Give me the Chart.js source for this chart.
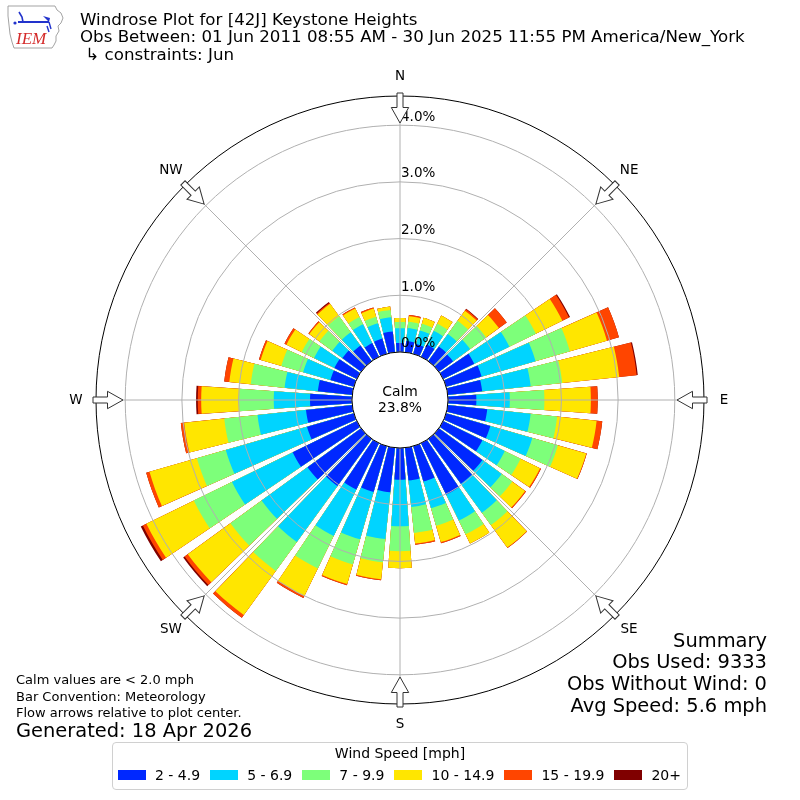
<!DOCTYPE html>
<html lang="en">
<head>
<meta charset="UTF-8">
<title>Windrose Plot for [42J] Keystone Heights</title>
<script src="https://cdn.jsdelivr.net/npm/chart.js"></script>
<style>
  body { margin: 0; background: #fff; font-family: "DejaVu Sans", sans-serif; color: #000; }
  #wrap { position: relative; width: 800px; height: 800px; overflow: hidden; }
  #wrap canvas { position: absolute; left: 0; top: 0; }
  .txt { position: absolute; white-space: pre; }
  #legend {
    position: absolute; left: 112px; top: 742px; width: 576px; height: 48px;
    box-sizing: border-box; border: 1px solid #d0d0d0; border-radius: 4px; background: #fff;
  }
  #legend .ttl { position: absolute; left: 0; right: 0; top: 3px; text-align: center; font-size: 14px; line-height: 14px; }
  #legend .row {
    position: absolute; left: 5px; right: 6px; top: 25px; height: 14px;
    display: flex; justify-content: space-between; align-items: center;
  }
  #legend .item { display: flex; align-items: center; font-size: 14px; line-height: 14px; }
  #legend .patch { width: 28px; height: 10px; margin-right: 9px; }
</style>
</head>
<body>
<div id="wrap">
  <canvas id="windrose" width="800" height="800"></canvas>

  <svg style="position:absolute;left:5px;top:3px" width="62" height="48" viewBox="0 0 62 48">
    <path d="M3 3 L50 3 L52 7 L56 10 L58 15 L56 20 L53 23 L54 28 L51 33 L51 38 L49 42 L47 45 L9 45 L7 39 L5 31 L4 22 L3 13 Z"
          fill="#fff" stroke="#999" stroke-width="0.9"/>
    <path d="M13 19 L44 19" stroke="#2233cc" stroke-width="2"/>
    <path d="M14 9 L17 14 L18 19" stroke="#2233cc" stroke-width="1.6" fill="none"/>
    <path d="M38 13 L45 15 L44 19 Z" fill="#2233cc"/>
    <path d="M44 19 L46 26 M42 23 L44 29" stroke="#2233cc" stroke-width="1.4"/>
    <circle cx="10" cy="20" r="1.6" fill="#2233cc"/>
    <text x="11" y="41" font-family="Liberation Serif" font-style="italic" font-size="17" fill="#d42a2a">IEM</text>
  </svg>

  <div id="legend">
    <div class="ttl">Wind Speed [mph]</div>
    <div class="row" id="legendRow"></div>
  </div>
</div>

<script>
    // compass points used for the axis lines, arrows and labels
    const directions = ['N', 'NE', 'E', 'SE', 'S', 'SW', 'W', 'NW'];
    // 36 sectors, 10 degrees apart, clockwise from north
    const sectorDegrees = [0, 10, 20, 30, 40, 50, 60, 70, 80, 90, 100, 110, 120, 130, 140, 150, 160, 170,
                           180, 190, 200, 210, 220, 230, 240, 250, 260, 270, 280, 290, 300, 310, 320, 330, 340, 350];
    const speedBins = ['2 - 4.9', '5 - 6.9', '7 - 9.9', '10 - 14.9', '15 - 19.9', '20+'];
    const binColors = ['#0028ff', '#00d4ff', '#7dff7a', '#ffe600', '#ff4500', '#800000'];

    // percent of observations in each sector, per speed bin
    const speed2to5 = [0.16, 0.20, 0.18, 0.24, 0.32, 0.31, 0.61, 0.65, 0.61, 0.50, 0.70, 0.81, 0.77, 0.95, 0.98, 1.01, 0.65, 0.58,
                       0.56, 0.79, 0.84, 0.91, 1.03, 1.17, 1.26, 0.86, 0.82, 0.74, 0.61, 0.43, 0.44, 0.41, 0.34, 0.27, 0.28, 0.37];
    const speed5to7 = [0.26, 0.23, 0.25, 0.27, 0.27, 0.37, 0.69, 0.99, 0.86, 0.59, 0.77, 0.77, 0.44, 0.42, 0.63, 0.51, 0.49, 0.47,
                       0.82, 0.83, 0.87, 0.91, 1.22, 1.00, 1.19, 1.49, 0.86, 0.64, 0.59, 0.50, 0.40, 0.22, 0.29, 0.37, 0.28, 0.25];
    const speed7to10 = [0.11, 0.11, 0.12, 0.14, 0.29, 0.35, 0.52, 0.63, 0.56, 0.61, 0.47, 0.47, 0.31, 0.23, 0.27, 0.27, 0.32, 0.46,
                        0.44, 0.41, 0.46, 0.64, 0.63, 0.68, 0.75, 0.53, 0.59, 0.61, 0.60, 0.40, 0.24, 0.28, 0.35, 0.14, 0.12, 0.13];
    const speed10to15 = [0.07, 0.10, 0.11, 0.16, 0.22, 0.28, 0.52, 0.68, 1.01, 0.82, 0.70, 0.52, 0.38, 0.28, 0.49, 0.18, 0.30, 0.19,
                         0.30, 0.30, 0.36, 0.54, 0.96, 0.93, 0.93, 0.87, 0.71, 0.67, 0.38, 0.38, 0.30, 0.22, 0.27, 0.17, 0.15, 0.06];
    const speed15to20 = [0, 0.02, 0, 0, 0.03, 0.17, 0.13, 0.22, 0.31, 0.12, 0.10, 0.01, 0.02, 0.02, 0.01, 0, 0.02, 0.02,
                         0, 0.02, 0.02, 0.04, 0.06, 0.07, 0.07, 0.06, 0.06, 0.06, 0.09, 0.03, 0.04, 0.02, 0.02, 0.02, 0.02, 0];
    const speed20plus = [0, 0, 0, 0, 0.01, 0, 0.02, 0, 0.02, 0, 0, 0, 0, 0, 0, 0, 0, 0,
                         0, 0, 0, 0, 0, 0.03, 0.04, 0, 0, 0.03, 0, 0, 0, 0, 0.02, 0, 0, 0];
    const calmPct = 23.8;
    const ringTicks = [0, 1, 2, 3, 4];

    const R_MIN = -0.847;   // leaves room for the calm circle
    const R_MAX = 4.515;

    const bins = [speed2to5, speed5to7, speed7to10, speed10to15, speed15to20, speed20plus];

    // stacked: each dataset is the running total, drawn from the center
    const cumulative = bins.map((_, b) => sectorDegrees.map((_, k) => {
        let s = 0;
        for (let j = 0; j <= b; j++) s += bins[j][k];
        return +s.toFixed(3);
    }));

    // 8 deg bars with 2 deg gaps, north bar split so it sits on 0
    function toArcs(values) {
        const out = [values[0], R_MIN];
        for (let k = 1; k < values.length; k++) out.push(values[k], R_MIN);
        out.push(values[0]);
        return out;
    }
    const arcAngles = [4, 2];
    for (let k = 1; k < sectorDegrees.length; k++) arcAngles.push(8, 2);
    arcAngles.push(4);

    const windroseDecor = {
        id: 'windroseDecor',
        afterDraw(chart) {
            const s = chart.scales.r;
            const c = chart.ctx;
            const cx = s.xCenter, cy = s.yCenter;
            const r0 = s.getDistanceFromCenterForValue(0);
            c.save();

            c.beginPath();
            c.arc(cx, cy, r0, 0, Math.PI * 2);
            c.fillStyle = '#fff';
            c.fill();
            c.lineWidth = 1;
            c.strokeStyle = '#000';
            c.stroke();

            c.fillStyle = '#000';
            c.font = '13.9px "DejaVu Sans"';
            c.textAlign = 'center';
            c.textBaseline = 'middle';
            c.fillText('Calm', cx, cy - 8);
            c.fillText(calmPct.toFixed(1) + '%', cx, cy + 8);

            c.font = '13.5px "DejaVu Sans"';
            c.textAlign = 'left';
            ringTicks.forEach(v => {
                c.fillText(v.toFixed(1) + '%', cx + 1, cy - s.getDistanceFromCenterForValue(v) - 8);
            });

            const R = s.drawingArea;
            directions.forEach((d, i) => {
                const a = s.getIndexAngle(i) - Math.PI / 2;
                c.save();
                c.translate(cx, cy);
                c.rotate(a);
                c.beginPath();
                c.moveTo(R - 27, 0);
                c.lineTo(R - 11.5, 8.7);
                c.lineTo(R - 11.5, 3);
                c.lineTo(R + 3, 3);
                c.lineTo(R + 3, -3);
                c.lineTo(R - 11.5, -3);
                c.lineTo(R - 11.5, -8.7);
                c.closePath();
                c.fillStyle = '#fff';
                c.fill();
                c.strokeStyle = '#333';
                c.lineWidth = 1;
                c.stroke();
                c.restore();

                const p = s.getPointPosition(i, R + 20);
                c.fillStyle = '#000';
                c.textAlign = 'center';
                c.fillText(d, p.x, p.y);
            });
            c.restore();
        }
    };

    const ctx = document.getElementById('windrose').getContext('2d');
    const chart = new Chart(ctx, {
        type: 'polarArea',
        data: {
            labels: directions,
            datasets: bins.map((_, b) => ({
                label: speedBins[b],
                data: toArcs(cumulative[b]),
                backgroundColor: binColors[b],
                borderWidth: 0,
                angle: arcAngles
            }))
        },
        options: {
            responsive: false,
            animation: false,
            events: [],
            layout: { padding: 96 },
            plugins: {
                legend: { display: false },
                tooltip: { enabled: false }
            },
            scales: {
                r: {
                    min: R_MIN,
                    max: R_MAX,
                    startAngle: 0,
                    afterBuildTicks: sc => {
                        sc.ticks = ringTicks.concat(R_MAX).map(v => ({ value: v }));
                    },
                    ticks: { display: false },
                    grid: {
                        z: 1,
                        circular: true,
                        lineWidth: 1,
                        color: c => (c.tick && c.tick.value === R_MAX) ? '#000' : '#b0b0b0'
                    },
                    angleLines: { display: true, color: '#b0b0b0', lineWidth: 1 },
                    pointLabels: { display: false }
                }
            }
        },
        plugins: [windroseDecor]
    });

    // text around the plot
    const wrap = document.getElementById('wrap');
    function addText(str, x, baseline, size, align) {
        const el = document.createElement('div');
        el.className = 'txt';
        el.textContent = str;
        el.style.fontSize = size + 'px';
        el.style.lineHeight = size + 'px';
        el.style.top = (baseline - 0.846 * size).toFixed(1) + 'px';
        if (align === 'right') el.style.right = (800 - x) + 'px';
        else el.style.left = x + 'px';
        wrap.appendChild(el);
    }
    addText('Windrose Plot for [42J] Keystone Heights', 80, 26, 16.67);
    addText('Obs Between: 01 Jun 2011 08:55 AM - 30 Jun 2025 11:55 PM America/New_York', 80, 43.5, 16.67);
    addText(' \u21b3 constraints: Jun', 80, 61, 16.67);

    addText('Calm values are < 2.0 mph', 16, 684, 13);
    addText('Bar Convention: Meteorology', 16, 700.5, 13);
    addText('Flow arrows relative to plot center.', 16, 717, 13);
    addText('Generated: 18 Apr 2026', 16, 737, 19.44);

    addText('Summary', 767, 647, 19.44, 'right');
    addText('Obs Used: 9333', 767, 668, 19.44, 'right');
    addText('Obs Without Wind: 0', 767, 690, 19.44, 'right');
    addText('Avg Speed: 5.6 mph', 767, 712, 19.44, 'right');

    const row = document.getElementById('legendRow');
    speedBins.forEach((lbl, b) => {
        const item = document.createElement('div');
        item.className = 'item';
        item.innerHTML = '<span class="patch" style="background:' + binColors[b] + '"></span><span>' + lbl + '</span>';
        row.appendChild(item);
    });
</script>
</body>
</html>
